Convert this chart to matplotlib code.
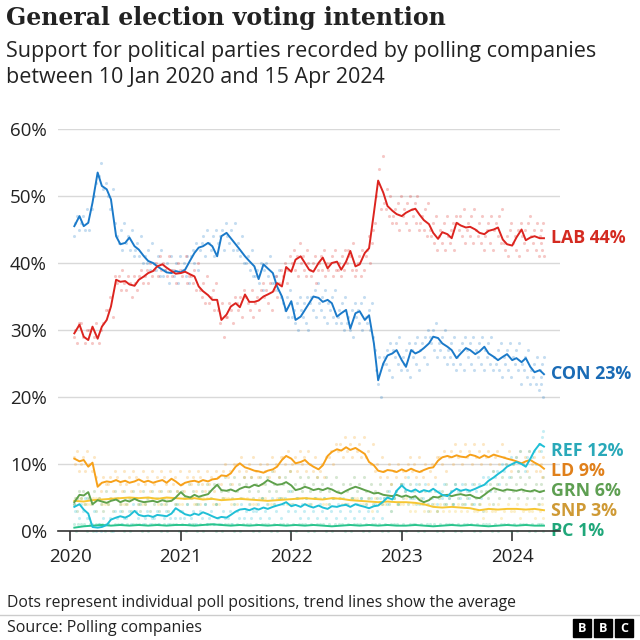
import numpy as np
import pandas as pd
import matplotlib.pyplot as plt
import matplotlib.dates as mdates
from matplotlib.patches import Rectangle

plt.rcParams["font.family"] = ["Open Sans", "DejaVu Sans"]

# ---- data -----------------------------------------------------------------
parties = ["LAB", "CON", "REF", "LD", "GRN", "SNP", "PC"]
final_share = [44, 23, 12, 9, 6, 3, 1]

first_poll = pd.Timestamp("2020-01-10")
last_poll = pd.Timestamp("2024-04-15")

# trend lines, read on the 1st and 15th of each month (Jan 15 2020 .. Apr 15 2024)
con_trend = [
    45.5, 47, 45.5, 46, 49, 53.5, 51.5, 51, 49.5, 44, 42.8, 43, 43.8, 42.5, 42, 41, 40.3, 40, 39.5, 39, 38.6, 38.5, 38.8,
    38.6, 39, 40.4, 41.5, 42.3, 42.5, 43, 42.5, 41, 44, 44.5, 43.7, 42.8, 42, 41, 40.3, 39.5, 37.6, 39.8, 39.2, 38.5, 36.5, 35, 32.8,
    34.3, 31.5, 32, 33, 34, 35, 34.8, 34.2, 34.5, 34, 32, 32.5, 33, 30.2, 32.5, 32.8, 31.5, 32.2, 28, 22.5, 25, 26.2, 26.5, 27,
    25.5, 24.5, 27, 26.5, 26.8, 27.3, 28, 29, 28.8, 28, 27.5, 27, 25.8, 26.5, 27.3, 27, 26.4, 26.8, 27.5, 26.5, 26, 25.5, 26, 26.4,
    25.5, 25.8, 25.2, 25.8, 24.5, 23.7, 24, 23.4,
]
lab_trend = [
    29.5, 30.8, 29, 28.5, 30.5, 28.7, 30.5, 31.5, 33.5, 37.5, 37.2, 37.3, 36.8, 36.6, 37.5, 38, 38.5, 38.8, 39.5, 39.8, 39.3, 38.8, 38.4,
    38.5, 38.7, 38.3, 38, 36.5, 35.8, 35.2, 34.5, 34.5, 31.5, 32.3, 33.5, 34, 33.4, 35.3, 34.2, 34.2, 34.4, 35, 35.3, 35.7, 37, 36.5, 39.4,
    38.7, 40.5, 41, 40, 39, 38.7, 40, 40.8, 39.2, 40, 40.2, 39, 40.2, 41.8, 39.5, 39.8, 41.5, 42.2, 47.5, 52.3, 50.5, 48.5, 47.8, 47.3,
    47, 47.5, 47.9, 48.1, 47.2, 46.4, 45.8, 44.5, 43.6, 44.6, 44.3, 43.7, 46, 45.6, 45.3, 45.4, 45, 44.5, 44.3, 44.8, 45, 45.3, 43.5, 42.8,
    42.6, 43.8, 45, 43.4, 43.8, 44, 43.7, 43.7,
]
ld_trend = [
    10.8, 10.4, 10.6, 9.6, 10.2, 6.6, 7.2, 7.4, 7.3, 7.6, 7.3, 7.5, 7.2, 7.4, 7.7, 7.3, 7.5, 7.2, 7.4, 7.6, 7.2, 7.8, 7.4,
    6.8, 7.2, 7.4, 7.5, 7.3, 7.6, 7.4, 7.7, 7.8, 8.3, 8.2, 8.6, 9.6, 10.1, 9.5, 9.3, 9.0, 8.9, 8.7, 9.0, 9.2, 9.6, 10.6, 11.2,
    10.8, 10.1, 10.3, 10.6, 10.0, 9.6, 9.2, 9.8, 11.2, 11.8, 12.2, 12.0, 12.5, 12.1, 12.4, 12.0, 11.5, 10.3, 9.8, 9.0, 8.8, 9.1, 9.0, 8.8,
    9.2, 8.9, 9.3, 9.0, 8.8, 9.1, 9.4, 9.5, 10.5, 11.0, 11.2, 11.0, 11.3, 11.1, 11.0, 11.4, 11.2, 10.9, 11.3, 11.0, 11.4, 11.2, 11.0, 10.8,
    10.6, 10.4, 10.1, 10.4, 10.6, 10.2, 9.8, 9.3,
]
ref_trend = [
    3.6, 4.0, 3.2, 2.6, 0.6, 0.5, 0.6, 0.9, 1.7, 2.0, 2.2, 2.0, 2.3, 3.0, 2.4, 2.2, 2.3, 2.1, 2.4, 2.3, 2.2, 2.6, 3.4,
    2.9, 2.5, 2.3, 2.6, 2.4, 2.8, 2.5, 2.2, 1.9, 2.1, 2.0, 2.4, 2.9, 3.2, 3.3, 3.1, 3.4, 3.2, 3.5, 3.3, 3.6, 3.8, 4.0, 4.3,
    3.7, 3.9, 3.6, 4.0, 3.7, 3.5, 3.8, 3.5, 3.3, 3.7, 3.6, 3.8, 3.9, 3.6, 4.0, 3.8, 3.6, 3.4, 3.7, 3.8, 4.4, 5.0, 4.7, 6.0,
    6.8, 6.2, 5.9, 6.2, 5.8, 6.1, 5.9, 6.3, 5.8, 5.4, 5.2, 5.8, 6.3, 6.0, 6.2, 6.0, 6.3, 6.6, 6.9, 7.5, 8.0, 8.5, 9.0, 9.6,
    10.0, 10.3, 10.0, 9.6, 10.8, 12.0, 13.0, 12.6,
]
grn_trend = [
    4.3, 5.4, 5.3, 5.8, 4.0, 4.6, 4.4, 4.2, 4.5, 4.7, 4.3, 4.6, 4.4, 4.8, 4.5, 4.3, 4.4, 4.5, 4.3, 4.6, 4.4, 4.5, 5.0,
    5.8, 5.2, 5.0, 5.4, 5.1, 5.3, 5.5, 6.2, 6.9, 6.1, 6.0, 6.2, 5.9, 6.3, 6.6, 6.5, 6.9, 6.7, 7.1, 7.6, 7.2, 6.9, 7.0, 7.3,
    6.8, 6.1, 6.3, 6.6, 6.4, 6.1, 6.3, 6.1, 6.4, 6.2, 5.8, 5.6, 6.0, 6.3, 6.6, 6.4, 6.1, 5.9, 5.6, 5.7, 5.4, 5.3, 5.2, 5.4,
    5.1, 5.3, 5.0, 5.2, 4.6, 4.3, 4.6, 5.1, 5.0, 5.3, 5.4, 5.2, 5.4, 5.5, 5.3, 5.4, 5.0, 4.9, 5.4, 5.9, 6.4, 6.2, 6.0, 6.2,
    6.1, 6.0, 6.2, 6.0, 5.9, 6.1, 5.8, 6.0,
]
# these two read once a month (mid-month)
snp_trend = [
    4.5, 4.4, 4.6, 4.7, 4.8, 4.9, 5.0, 4.9, 5.0, 4.8, 5.0, 4.9,
    4.8, 4.9, 4.7, 4.8, 4.6, 4.7, 4.8, 4.7, 4.6, 4.5, 4.6, 4.7,
    4.8, 4.9, 4.8, 4.7, 4.9, 4.8, 4.6, 4.5, 4.4, 4.3, 4.4, 4.3,
    4.3, 4.2, 4.0, 3.6, 3.5, 3.6, 3.5, 3.4, 3.1, 3.3, 3.2, 3.3,
    3.3, 3.2, 3.3, 3.1,
]
pc_trend = [
    0.5, 0.7, 0.8, 0.9, 0.8, 0.9, 0.8, 0.9, 0.8, 0.9, 0.8, 0.9,
    0.9, 0.8, 0.9, 1.0, 0.9, 0.8, 0.9, 0.8, 0.9, 0.8, 0.9, 0.8,
    0.9, 0.8, 0.9, 0.8, 0.7, 0.8, 0.9, 0.8, 0.9, 0.8, 0.9, 0.8,
    0.8, 0.9, 0.8, 0.7, 0.8, 0.9, 0.8, 0.9, 0.8, 0.7, 0.8, 0.9,
    0.8, 0.9, 0.8, 0.8,
]

# individual polls, grouped by month (Jan 2020 .. Apr 2024), "/" between months
lab_polls = """
29 30 28 31/31 29 28 30/30 28 29 31/28 30 31 33/33 35 32 38/37 38 36 39 37/36 38 37 35 38/37 36 38 39 37/
38 39 37 40 38/39 40 38 41 39/40 39 38 41 39/38 39 37 40 39/
38 39 41 37 38/38 37 39 36 40/36 35 37 34 38/34 35 36 33 37/33 31 34 29 32/32 34 33 31 35/34 33 35 32 36/
35 34 33 36 32/34 35 33 36 37/35 36 34 37 33/36 38 35 37 39/38 40 37 39 41/
40 42 39 41 38 43/40 41 39 38 42 40/39 38 40 41 37 39/40 41 39 42 38 40/39 40 41 38 42 39/39 40 38 41 39 42/
40 42 41 39 43 38/39 40 41 38 42 39/41 42 44 40 43 45/46 50 52 54 48 56/49 48 51 47 50 46/47 48 46 49 45 50/
47 48 46 49 45 50/48 47 49 46 50 45/46 47 45 48 44 49/45 44 46 43 47 42/44 45 43 46 42 47/44 43 45 46 42 47/
46 45 47 44 48 43/45 46 44 47 43 48/45 44 46 43 47 42/44 45 46 43 47 42/45 46 44 47 43 48/43 42 44 41 45 46/
43 44 42 45 41 46/44 43 45 42 46 47/44 43 45 42 46 41/44 43 45 42 46 41
"""
con_polls = """
44 46 47 45/46 47 45 48/45 48 50 52/53 55 51 52/50 48 51 46/44 43 45 42 46/43 44 42 45 41/42 43 41 44 40/
41 40 42 39 43/40 39 41 38 42/38 39 40 37 41/39 38 40 37 41/
39 40 38 41 37/41 42 40 43 39/42 43 44 41 45/43 42 44 41 45/43 44 45 42 46/44 43 45 42 46/42 43 41 44 40/
40 41 39 42 38/38 39 37 40 36/39 40 38 41 37/37 38 36 39 35/34 33 35 32 36/
32 33 31 34 30 35/33 32 34 31 35 30/34 35 33 36 32 37/34 33 35 32 36 31/34 33 35 32 36 31/32 33 31 34 30 35/
31 32 30 33 29 34/32 33 31 34 30 35/32 31 33 30 34 29/27 24 22 26 20 25/26 25 27 24 28 23/27 26 28 25 29 24/
26 25 27 24 28 23/27 26 28 25 29 24/27 28 26 29 25 30/29 28 30 27 31 26/28 27 29 26 30 25/27 26 28 25 29 24/
26 27 25 28 24 29/27 26 28 25 29 24/27 26 28 25 29 24/27 26 28 25 29 24/26 25 27 24 28 23/26 25 27 24 28 23/
26 25 27 24 28 22/25 24 26 23 27 22/24 23 25 22 26 21/24 23 22 25 20 26
"""
ld_polls = """
11 10 12 9/10 11 9 12/10 9 11 8/7 6 8 7/7 8 6 9/8 7 6 9/7 8 6 9/8 7 6 9/7 8 6 9/7 8 6 9/8 7 6 9/7 8 6 9/
7 6 8 9/7 8 6 9/8 7 6 9/7 8 6 9/8 7 9 10/8 9 7 10/10 9 11 8/9 10 8 11/9 8 10 7/9 10 8 11/9 10 8 11/11 10 12 9/
10 11 9 12/10 11 9 12/10 9 11 8/9 10 8 11/11 12 10 13/12 13 11 14/12 13 11 14/12 13 11 14/11 12 10 13/9 10 8 11/
9 8 10 7/9 8 10 7/
9 8 10 11/9 10 8 11/9 8 10 7/9 10 8 11/11 10 12 9/11 12 10 13/11 12 10 13/11 12 10 13/11 12 10 13/11 12 10 9/
11 12 10 13/11 10 12 9/
10 11 9 12/10 11 9 12/10 11 9 12/9 10 8 11
"""
ref_polls = """
4 3 5 2/4 3 5 2/2 1 3 0/1 0 2 1/1 2 0 3/2 3 1 2/2 3 1 4/3 2 4 1/2 3 1 2/2 3 1 4/2 3 1 2/3 2 4 2/
3 2 4 1/2 3 1 4/3 2 4 1/2 3 1 4/2 1 3 2/2 3 1 4/3 2 4 2/3 4 2 3/3 4 2 5/3 4 2 5/4 3 5 2/4 5 3 6/
4 3 5 2/4 3 5 2/4 3 5 2/4 3 5 2/4 3 5 2/4 3 5 2/4 3 5 2/4 3 5 2/4 3 5 2/4 3 5 2/5 4 6 3/5 6 4 7/
7 6 8 5/6 5 7 4/6 5 7 4/6 5 7 4/6 5 7 4/5 6 4 7/6 5 7 4/6 5 7 4/6 7 5 8/7 8 6 9/8 9 7 10/9 10 8 11/
10 11 9 12/10 9 11 12/11 12 10 13/13 12 14 15
"""
grn_polls = """
4 5 3 6/5 6 4 5/5 4 6 3/5 4 3 6/4 5 3 6/5 4 3 6/4 5 3 6/5 4 3 6/4 5 3 6/4 5 3 6/5 4 3 6/5 4 6 3/
6 5 4 7/5 6 4 7/5 6 4 7/6 5 7 4/7 6 5 8/6 7 5 8/6 7 5 8/7 6 8 5/7 6 8 5/7 8 6 9/7 6 8 5/7 8 6 9/
6 7 5 8/6 7 5 8/6 7 5 8/6 7 5 8/6 7 5 8/6 5 7 4/6 7 5 8/6 7 5 8/6 5 7 4/6 5 7 4/5 6 4 7/5 6 4 7/
5 6 4 7/5 6 4 7/5 4 6 3/5 4 6 3/5 6 4 7/5 6 4 7/5 6 4 7/5 6 4 7/5 4 6 3/6 5 7 4/6 7 5 8/6 7 5 8/
6 7 5 8/6 7 5 8/6 5 7 4/6 7 5 8
"""
snp_polls = """
4 5 5/5 4 4/4 5 5/5 4 4/4 5 5/5 4 4/4 5 5/5 4 4/4 5 5/5 4 4/4 5 5/5 4 4/
4 5 5/5 4 4/4 5 5/5 4 4/4 5 5/5 4 4/4 5 5/5 4 4/4 5 5/5 4 4/4 5 5/5 4 4/
4 5 5/5 4 4/4 5 5/5 4 4/4 5 5/5 4 4/4 5 5/5 4 4/4 5 3/5 4 4/4 5 3/5 4 4/
4 5 3/4 3 5/4 3 4/3 4 3/4 3 4/3 4 3/4 3 4/3 4 3/3 4 2/3 4 3/3 4 2/3 4 3/
3 4 2/3 4 3/3 2 4/3 4 2
"""
pc_polls = "/".join(["1 0 1", "1 1 0"] * 26)

trend_daily = {
    "LAB": lab_trend, "CON": con_trend, "REF": ref_trend,
    "LD": ld_trend, "GRN": grn_trend, "SNP": snp_trend, "PC": pc_trend,
}
polls = {
    "LAB": lab_polls, "CON": con_polls, "REF": ref_polls,
    "LD": ld_polls, "GRN": grn_polls, "SNP": snp_polls, "PC": pc_polls,
}

line_color = {
    "LAB": "#dc241f", "CON": "#1b7ac9", "REF": "#1fbfd6", "LD": "#f7a11a",
    "GRN": "#5fa14c", "SNP": "#f7c633", "PC": "#2ac48d",
}
label_color = {
    "LAB": "#d42a20", "CON": "#1a6bb5", "REF": "#2aa9b9", "LD": "#e0801b",
    "GRN": "#5e9f52", "SNP": "#cf9a35", "PC": "#20a77a",
}
label_y = {"LAB": 43.7, "CON": 23.4, "REF": 12, "LD": 9, "GRN": 6, "SNP": 3, "PC": 0}

half_month = pd.date_range("2020-01-15", "2024-04-15", freq="SMS")
mid_month = pd.date_range("2020-01-01", "2024-04-01", freq="MS") + pd.Timedelta(days=14)
month_start = pd.date_range("2020-01-01", "2024-04-01", freq="MS")


def poll_points(text):
    xs, ys = [], []
    groups = text.strip().replace("\n", "").split("/")
    for m0, g in zip(month_start, groups):
        vals = [float(v) for v in g.split()]
        lo = max(m0, first_poll)
        hi = min(m0 + pd.offsets.MonthBegin(1), last_poll)
        for k, v in enumerate(vals):
            xs.append(lo + (hi - lo) * ((k + 0.5) / len(vals)))
            ys.append(v)
    return xs, ys


# ---- figure -----------------------------------------------------------------
W, H = 640, 640
fig = plt.figure(figsize=(6.4, 6.4), dpi=100)
ax = fig.add_axes([58 / W, (H - 531) / H, (560 - 58) / W, 402 / H])

# dots first, lines on top
for p in parties[::-1]:
    xs, ys = poll_points(polls[p])
    ax.scatter(xs, ys, s=5, color=line_color[p], alpha=0.25, linewidths=0,
               zorder=2, clip_on=False)

for p in parties[::-1]:
    vals = trend_daily[p]
    dates = half_month if len(vals) == len(half_month) else mid_month
    ax.plot(dates, vals, color=line_color[p], lw=1.4, zorder=3, solid_joinstyle="round")

for p, share in zip(parties, final_share):
    ax.annotate(f"{p} {share}%", xy=(last_poll, label_y[p]), xytext=(5, 0),
                textcoords="offset points", ha="left", va="center",
                fontsize=12.8, fontweight="bold", color=label_color[p],
                annotation_clip=False)

ax.set_ylim(0, 60)
ax.set_xlim(pd.Timestamp("2019-11-22"), pd.Timestamp("2024-06-07"))
ax.set_yticks(range(0, 61, 10))
ax.set_yticklabels([f"{v}%" for v in range(0, 61, 10)])
ax.xaxis.set_major_locator(mdates.YearLocator())
ax.xaxis.set_major_formatter(mdates.DateFormatter("%Y"))

ax.grid(axis="y", color="#d9d9d9", lw=1)
ax.set_axisbelow(True)
for s in ["top", "right", "left"]:
    ax.spines[s].set_visible(False)
ax.spines["bottom"].set_color("#333333")
ax.spines["bottom"].set_linewidth(1.2)
ax.spines["bottom"].set_zorder(4)
ax.tick_params(axis="y", length=0, pad=8, labelsize=13.5, labelcolor="#222222")
ax.tick_params(axis="x", length=7, width=1.2, color="#333333", pad=5,
               labelsize=13.5, labelcolor="#222222")

# titles
fig.text(6 / W, 1 - 18 / H, "General election voting intention", fontsize=17,
         family="DejaVu Serif", fontweight="bold", color="#222222",
         va="center", ha="left")
fig.text(6 / W, 1 - 52 / H, "Support for political parties recorded by polling companies",
         fontsize=15.5, color="#222222", va="center", ha="left")
fig.text(6 / W, 1 - 77 / H, "between 10 Jan 2020 and 15 Apr 2024",
         fontsize=15.5, color="#222222", va="center", ha="left")

# footer
fig.text(7 / W, 1 - 603 / H, "Dots represent individual poll positions, trend lines show the average",
         fontsize=11.3, color="#222222", va="center", ha="left")
fig.add_artist(plt.Line2D([0, 1], [1 - 615 / H] * 2, color="#cccccc", lw=1))
fig.text(7 / W, 1 - 628 / H, "Source: Polling companies", fontsize=11.5,
         color="#222222", va="center", ha="left")
for i, letter in enumerate("BBC"):
    x0 = 573 + i * 21
    fig.add_artist(Rectangle((x0 / W, 1 - 637 / H), 18 / W, 18 / H,
                             transform=fig.transFigure, color="black"))
    fig.text((x0 + 9) / W, 1 - 628 / H, letter, color="white", fontsize=9,
             fontweight="bold", ha="center", va="center")

fig.savefig("out.png", dpi=100)
